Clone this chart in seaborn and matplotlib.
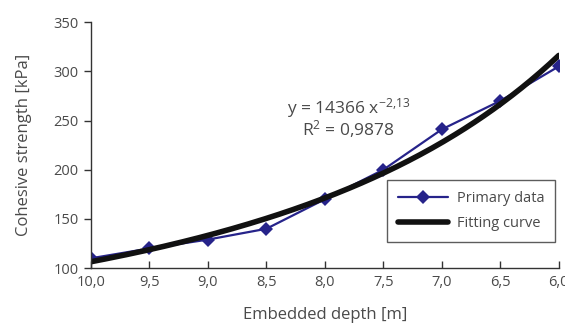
import numpy as np
import pandas as pd
import matplotlib
matplotlib.use("Agg")
import matplotlib.pyplot as plt
import seaborn as sns

# data
depth = [10.0, 9.5, 9.0, 8.5, 8.0, 7.5, 7.0, 6.5, 6.0]
strength = [110, 120, 129, 140, 170, 200, 241, 270, 305]
# fitted power law shown on the chart: y = 14366 x^-2.13
fit_a = 14366
fit_b = -2.13
x_ticks = [10.0, 9.5, 9.0, 8.5, 8.0, 7.5, 7.0, 6.5, 6.0]
y_ticks = [100, 150, 200, 250, 300, 350]

sns.set_style("ticks")
txt = '#4a4a4a'
axc = '#333333'
plt.rcParams.update({
    'font.family': ['Open Sans', 'DejaVu Sans'],
    'mathtext.default': 'regular',
    'xtick.labelcolor': txt, 'ytick.labelcolor': txt,
    'xtick.labelsize': 10.5, 'ytick.labelsize': 10.5,
})

fig = plt.figure(figsize=(5.65, 3.25), dpi=100)
ax = fig.add_axes([0.161, 0.175, 0.828, 0.757])

df = pd.DataFrame({'depth': depth, 'strength': strength})
xf = np.linspace(10.0, 6.0, 200)
fit_df = pd.DataFrame({'depth': xf, 'strength': fit_a * xf ** fit_b})

sns.lineplot(data=df, x='depth', y='strength', ax=ax, color='#26238a', lw=1.6,
             marker='D', markersize=7, markeredgewidth=0, label='Primary data')
sns.lineplot(data=fit_df, x='depth', y='strength', ax=ax, color='#111111', lw=4,
             label='Fitting curve')

ax.set_xlim(10.0, 6.0)
ax.set_ylim(100, 350)
ax.set_xticks(x_ticks)
ax.set_xticklabels([f"{v:.1f}".replace('.', ',') for v in x_ticks])
ax.set_yticks(y_ticks)
ax.tick_params(axis='x', length=0, pad=5)
ax.tick_params(axis='y', length=0, pad=9)
for s in ['top', 'right']:
    ax.spines[s].set_visible(False)
for s in ['left', 'bottom']:
    ax.spines[s].set_color(axc)
    ax.spines[s].set_linewidth(1)

# tick marks: x ticks point inward, y ticks outward (~7 px)
ax.vlines(x_ticks, 0, 7 / 246, transform=ax.get_xaxis_transform(),
          colors=axc, lw=1, clip_on=False, zorder=1)
ax.hlines(y_ticks, -7 / 468, 0, transform=ax.get_yaxis_transform(),
          colors=axc, lw=1, clip_on=False, zorder=1)

ax.set_xlabel('Embedded depth [m]', color=txt, fontsize=12, labelpad=12)
ax.set_ylabel('Cohesive strength [kPa]', color=txt, fontsize=12, labelpad=15)

ax.text(0.55, 0.65, 'y = 14366 x$^{-2{,}13}$', transform=ax.transAxes,
        ha='center', va='center', fontsize=12.5, color=txt)
ax.text(0.55, 0.565, 'R$^{2}$ = 0,9878', transform=ax.transAxes,
        ha='center', va='center', fontsize=12.5, color=txt)

leg = ax.legend(loc='lower right', bbox_to_anchor=(1.008, 0.075), fontsize=10.5,
                frameon=True, fancybox=False, edgecolor=axc, handlelength=3.4,
                handletextpad=0.6, borderpad=0.75, labelspacing=0.7)
leg.get_frame().set_linewidth(1)
for t in leg.get_texts():
    t.set_color(txt)

fig.savefig('out.png', dpi=100)
